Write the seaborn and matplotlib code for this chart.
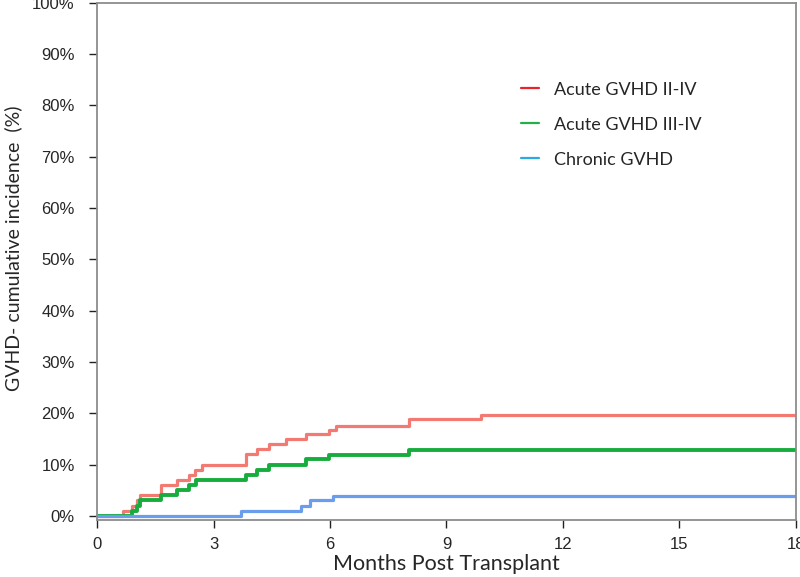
import numpy as np
import pandas as pd
import matplotlib
matplotlib.use("Agg")
import matplotlib.pyplot as plt
from matplotlib.lines import Line2D
import seaborn as sns

# Step data (months, cumulative incidence %)
acute24_x = [0, 0.68, 0.89, 1.02, 1.12, 1.65, 2.05, 2.38, 2.52, 2.70, 3.84, 4.11, 4.44, 4.86, 5.37, 5.98, 6.15, 8.03, 9.9, 18]
acute24_y = [0, 1, 2, 3, 4, 6, 7, 8, 9, 10, 12, 13, 14, 15, 16, 16.7, 17.6, 18.8, 19.7, 19.7]

acute34_x = [0, 0.89, 1.02, 1.12, 1.65, 2.05, 2.38, 2.55, 3.84, 4.11, 4.44, 5.37, 5.98, 8.03, 18]
acute34_y = [0, 1, 2, 3, 4, 5, 6, 7, 8, 9, 10, 11, 11.9, 12.9, 12.9]

chronic_x = [0, 3.71, 5.25, 5.49, 6.07, 18]
chronic_y = [0, 1, 2, 3, 3.9, 3.9]

series_names = ["Acute GVHD II-IV", "Acute GVHD III-IV", "Chronic GVHD"]
line_colors = ["#F27A72", "#17AD3E", "#6A9DEC"]
legend_colors = ["#E8232A", "#22B04B", "#29AAE2"]
x_ticks = [0, 3, 6, 9, 12, 15, 18]
y_ticks = list(range(0, 101, 10))

# long-format table for seaborn
df = pd.concat([
    pd.DataFrame({"month": acute24_x, "pct": acute24_y, "group": series_names[0]}),
    pd.DataFrame({"month": acute34_x, "pct": acute34_y, "group": series_names[1]}),
    pd.DataFrame({"month": chronic_x, "pct": chronic_y, "group": series_names[2]}),
])

sns.set_style("ticks")
plt.rcParams["font.family"] = ["Liberation Sans", "DejaVu Sans"]

fig = plt.figure(figsize=(8, 5.77), dpi=100)
ax = fig.add_axes([0.12125, 0.0988, 0.87375, 0.8962])

widths = {series_names[0]: 2.3, series_names[1]: 2.8, series_names[2]: 2.3}
for name, color in zip(series_names, line_colors):
    sub = df[df["group"] == name]
    sns.lineplot(data=sub, x="month", y="pct", ax=ax, color=color,
                 drawstyle="steps-post", linewidth=widths[name],
                 estimator=None, legend=False)

ax.set_xlim(0, 18)
ax.set_ylim(-0.8, 100)
ax.set_xticks(x_ticks)
ax.set_xticklabels([str(t) for t in x_ticks], fontsize=12)
ax.set_yticks(y_ticks)
ax.set_yticklabels([f"{t}%" for t in y_ticks], fontsize=12)
ax.tick_params(axis="both", direction="out", length=6, width=1, color="#222222")
ax.tick_params(axis="y", pad=10)
ax.tick_params(axis="x", pad=6)

for s in ax.spines.values():
    s.set_color("#8c8c8c")
    s.set_linewidth(1.3)

ax.set_xlabel("Months Post Transplant", fontsize=15.5, family=["Lato", "DejaVu Sans"], labelpad=2)
ax.set_ylabel("GVHD- cumulative incidence  (%)", fontsize=14, family=["Lato", "DejaVu Sans"])
ax.yaxis.set_label_coords(-0.107, 0.526)

handles = [Line2D([0], [0], color=c, lw=1.6) for c in legend_colors]
ax.legend(handles, series_names, loc="upper left", bbox_to_anchor=(0.5935, 0.865),
          frameon=False, prop={"family": "Lato", "size": 13},
          handlelength=1.0, handletextpad=0.85, labelspacing=1.05, borderpad=0)

fig.savefig("out.png", dpi=100)
